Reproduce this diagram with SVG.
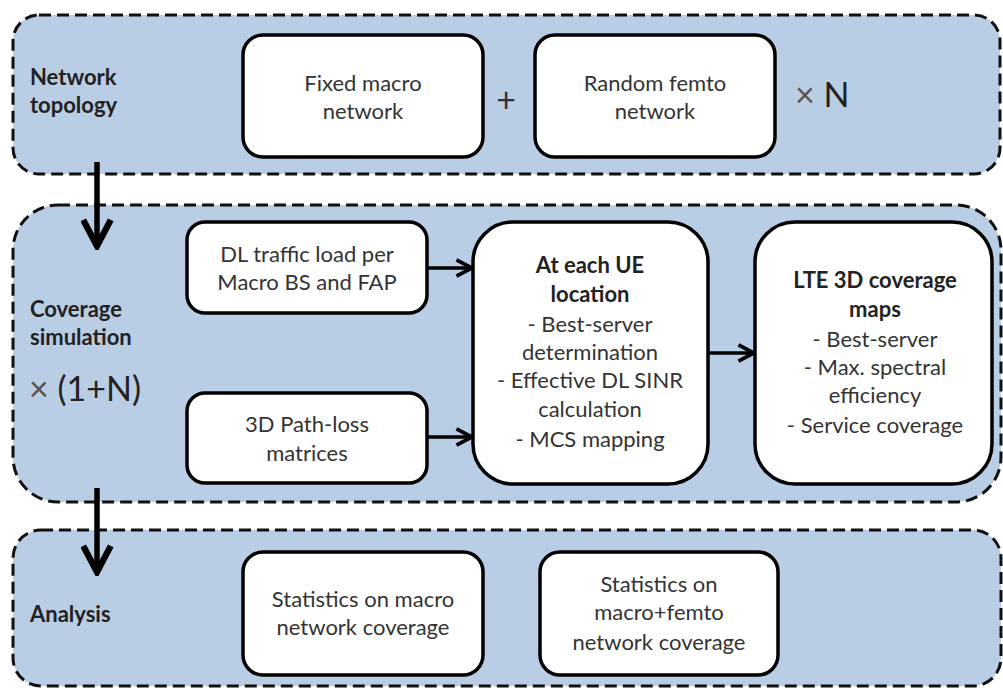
<svg xmlns="http://www.w3.org/2000/svg" width="1003" height="688" viewBox="0 0 1003 688">
<defs>
<style>
.panel{fill:#b9cde5;stroke:#111;stroke-width:3;stroke-dasharray:12 6}
.box{fill:#fff;stroke:#000;stroke-width:3.5}
.t{font-family:Lato,"Open Sans","Liberation Sans",sans-serif;font-size:22px;fill:#333;text-anchor:middle}
.b{font-weight:bold;fill:#222}
.lbl{font-family:Lato,"Open Sans","Liberation Sans",sans-serif;font-size:22px;font-weight:bold;fill:#222}
.big{font-family:Lato,"Open Sans","Liberation Sans",sans-serif;font-size:34px;fill:#222}
.x{fill:#555}
.conn{fill:none;stroke:#000}
</style>
<marker id="ah" viewBox="0 0 12 12" refX="10.5" refY="6" markerWidth="6" markerHeight="6" orient="auto" markerUnits="strokeWidth">
<path d="M1,1 L10.5,6 L1,11" fill="none" stroke="#000" stroke-width="2.3"/>
</marker>
<marker id="ah2" viewBox="0 0 12 12" refX="10.5" refY="6" markerWidth="5.6" markerHeight="5.6" orient="auto" markerUnits="strokeWidth">
<path d="M1,1 L10.5,6 L1,11" fill="none" stroke="#000" stroke-width="2.3"/>
</marker>
</defs>

<g id="panel-topology">
<rect class="panel" x="13" y="15" width="987" height="159" rx="26"/>
<text class="lbl" x="30" y="85">Network</text>
<text class="lbl" x="30" y="113">topology</text>
<text class="t" x="506" y="112" style="font-size:34px">+</text>
<text class="big" x="795" y="107"><tspan class="x">×</tspan> N</text>
</g>

<g id="panel-simulation">
<rect class="panel" x="13" y="205" width="988" height="297" rx="45"/>
<text class="lbl" x="30" y="317">Coverage</text>
<text class="lbl" x="30" y="345">simulation</text>
<text class="big" x="29" y="401"><tspan class="x">×</tspan> (1+N)</text>
</g>

<g id="panel-analysis">
<rect class="panel" x="13" y="530" width="988" height="156" rx="28"/>
<text class="lbl" x="30" y="622">Analysis</text>
</g>

<g id="node-fixed-macro">
<rect class="box" x="243" y="35" width="240" height="122" rx="20"/>
<text class="t" x="363" y="91">Fixed macro</text>
<text class="t" x="363" y="119">network</text>
</g>

<g id="node-random-femto">
<rect class="box" x="535" y="35" width="240" height="122" rx="20"/>
<text class="t" x="655" y="91">Random femto</text>
<text class="t" x="655" y="119">network</text>
</g>

<g id="node-dl-traffic">
<rect class="box" x="187" y="222" width="240" height="91" rx="18"/>
<text class="t" x="307" y="262">DL traffic load per</text>
<text class="t" x="307" y="290">Macro BS and FAP</text>
</g>

<g id="node-pathloss">
<rect class="box" x="187" y="393" width="240" height="90" rx="18"/>
<text class="t" x="307" y="432">3D Path-loss</text>
<text class="t" x="307" y="461">matrices</text>
</g>

<g id="node-ue">
<rect class="box" x="473" y="222" width="235" height="262" rx="40"/>
<text class="t b" x="590" y="273">At each UE</text>
<text class="t b" x="590" y="302">location</text>
<text class="t" x="590" y="332">- Best-server</text>
<text class="t" x="590" y="360">determination</text>
<text class="t" x="590" y="388">- Effective DL SINR</text>
<text class="t" x="590" y="417">calculation</text>
<text class="t" x="590" y="447">- MCS mapping</text>
</g>

<g id="node-lte">
<rect class="box" x="755" y="222" width="237" height="262" rx="40"/>
<text class="t b" x="875" y="288">LTE 3D coverage</text>
<text class="t b" x="875" y="317">maps</text>
<text class="t" x="875" y="347">- Best-server</text>
<text class="t" x="875" y="375">- Max. spectral</text>
<text class="t" x="875" y="403">efficiency</text>
<text class="t" x="875" y="433">- Service coverage</text>
</g>

<g id="node-stats-macro">
<rect class="box" x="243" y="552" width="240" height="123" rx="20"/>
<text class="t" x="363" y="607">Statistics on macro</text>
<text class="t" x="363" y="635">network coverage</text>
</g>

<g id="node-stats-femto">
<rect class="box" x="540" y="552" width="238" height="123" rx="20"/>
<text class="t" x="659" y="592">Statistics on</text>
<text class="t" x="659" y="620">macro+femto</text>
<text class="t" x="659" y="650">network coverage</text>
</g>

<g id="connectors">
<line class="conn" x1="97" y1="162" x2="97" y2="246" stroke-width="5.5" marker-end="url(#ah)"/>
<line class="conn" x1="97" y1="488" x2="97" y2="572" stroke-width="5.5" marker-end="url(#ah)"/>
<line class="conn" x1="427" y1="268" x2="472" y2="268" stroke-width="3.5" marker-end="url(#ah2)"/>
<line class="conn" x1="427" y1="437" x2="472" y2="437" stroke-width="3.5" marker-end="url(#ah2)"/>
<line class="conn" x1="708" y1="353" x2="754" y2="353" stroke-width="3.5" marker-end="url(#ah2)"/>
</g>
</svg>
